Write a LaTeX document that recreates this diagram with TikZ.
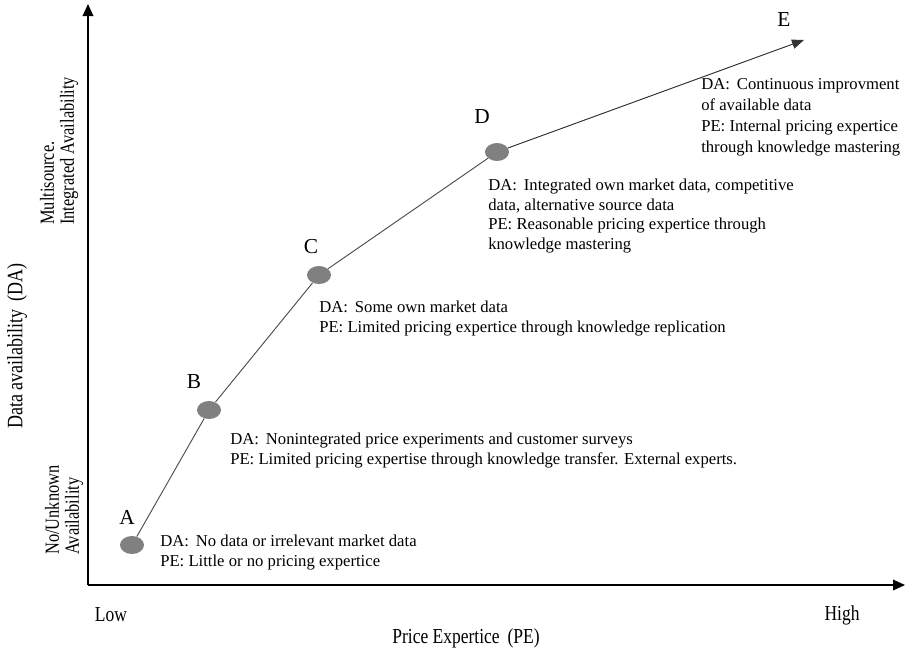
\documentclass[tikz,border=0pt]{standalone}
\usepackage{fontspec}
\setmainfont{Liberation Serif}
\newfontfamily\narrowserif[FakeStretch=0.82]{Liberation Serif}
\usetikzlibrary{arrows.meta,shapes.geometric}
\begin{document}
\begin{tikzpicture}[x=0.75pt,y=-0.75pt,
  dot/.style={ellipse,fill=black!50,minimum width=18pt,minimum height=13.5pt,inner sep=0pt},
  ptlabel/.style={font=\fontsize{16}{18}\selectfont,inner sep=0pt},
  desc/.style={font=\fontsize{12.5}{14.6}\selectfont,align=left,anchor=base west,inner sep=0pt},
  sidelbl/.style={font=\narrowserif\fontsize{15}{15}\selectfont,rotate=90,inner sep=0pt,align=left,anchor=west},
  axlbl/.style={font=\narrowserif\fontsize{16}{18}\selectfont,inner sep=0pt},
  axis/.style={line width=1pt,-{Triangle[length=9pt,width=8pt]}},
  curve/.style={draw=black!70,line width=0.7pt}]
\useasboundingbox (0,0) rectangle (907,650);
% axes
\coordinate (O) at (88,585);
\coordinate (ytip) at (88,4);
\coordinate (xtip) at (905,585);
\draw[axis] (O) -- (ytip);
\draw[axis] (O) -- (xtip);
% points
\node[dot] (A) at (132,545) {};
\node[dot] (B) at (209,410) {};
\node[dot] (C) at (319,275) {};
\node[dot] (D) at (497,152) {};
\coordinate (E) at (804,40);
\draw[curve] (A) -- (B) -- (C) -- (D);
\draw[curve,-{Triangle[length=9pt,width=7pt]},draw=black!80,fill=black] (D) -- (E);
% point letters
\node[ptlabel] (lA) at (127,517) {A};
\node[ptlabel] (lB) at (194,382) {B};
\node[ptlabel] (lC) at (311,247) {C};
\node[ptlabel] (lD) at (482,117) {D};
\node[ptlabel] (lE) at (784,20) {E};
% descriptions (anchored at the baseline of the last line)
\node[desc] (tA) at (160,566) {DA:\, No data or irrelevant market data\\PE: Little or no pricing expertice};
\node[desc] (tB) at (230,464) {DA:\, Nonintegrated price experiments and customer surveys\\PE: Limited pricing expertise through knowledge transfer. External experts.};
\node[desc] (tC) at (319,332) {DA:\, Some own market data\\PE: Limited pricing expertice through knowledge replication};
\node[desc] (tD) at (488,249) {DA:\, Integrated own market data, competitive\\data, alternative source data\\PE: Reasonable pricing expertice through\\knowledge mastering};
\node[desc,font=\fontsize{12.5}{15.6}\selectfont] (tE) at (701,152) {DA:\, Continuous improvment\\of available data\\PE: Internal pricing expertice\\through knowledge mastering};
% side labels
\node[sidelbl,anchor=center,font=\narrowserif\fontsize{16.5}{18}\selectfont] (yl) at (17,346) {Data availability\, (DA)};
\node[sidelbl] (hi) at (59,225) {Multisource.\\Integrated Availability};
\node[sidelbl] (lo) at (64,555) {No/Unknown\\Availability};
% axis labels
\node[axlbl] (low) at (111,615) {Low};
\node[axlbl] (high) at (842,615) {High};
\node[axlbl] (xl) at (466,638) {Price Expertice\, (PE)};
\end{tikzpicture}
\end{document}
